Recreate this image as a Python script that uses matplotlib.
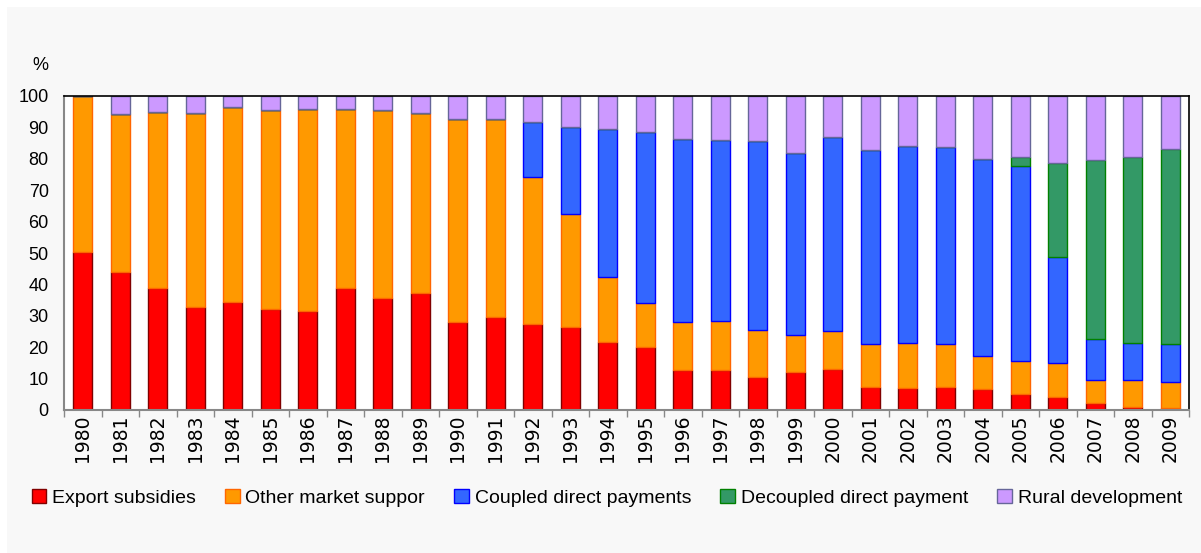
import numpy as np
import matplotlib
matplotlib.use("Agg")
import matplotlib.pyplot as plt
from matplotlib.patches import Rectangle

plt.rcParams['font.family'] = ['Liberation Sans', 'DejaVu Sans']

# data (shares in %)
years = [str(y) for y in range(1980, 2010)]

export_subsidies = [50.3, 44.0, 38.9, 32.9, 34.5, 32.2, 31.6, 38.9, 35.8, 37.4,
                    28.1, 29.5, 27.3, 26.5, 21.7, 20.1, 12.7, 12.7, 10.6, 12.0,
                    13.2, 7.2, 7.1, 7.2, 6.8, 5.1, 4.2, 2.3, 1.1, 0.7]
other_market = [49.7, 50.3, 56.1, 61.6, 61.9, 63.4, 64.4, 57.1, 59.8, 57.1,
                 64.7, 63.3, 47.0, 36.0, 20.8, 14.0, 15.3, 15.6, 15.0, 12.0,
                 12.1, 13.7, 14.1, 13.7, 10.4, 10.5, 10.7, 7.1, 8.5, 8.1]
coupled = [0, 0, 0, 0, 0, 0, 0, 0, 0, 0,
           0, 0, 17.3, 27.6, 47.1, 54.3, 58.4, 57.7, 60.0, 57.8,
           61.6, 62.0, 62.8, 62.7, 62.8, 62.0, 33.7, 13.1, 11.7, 12.1]
decoupled = [0, 0, 0, 0, 0, 0, 0, 0, 0, 0,
             0, 0, 0, 0, 0, 0, 0, 0, 0, 0,
             0, 0, 0, 0, 0, 2.9, 30.2, 57.2, 59.2, 62.3]
rural = [0, 5.7, 5.0, 5.5, 3.6, 4.4, 4.0, 4.0, 4.4, 5.5,
         7.2, 7.2, 8.4, 9.9, 10.4, 11.6, 13.6, 14.0, 14.4, 18.2,
         13.1, 17.1, 16.0, 16.4, 20.0, 19.5, 21.2, 20.3, 19.5, 16.8]

series = [
    ("Export subsidies", export_subsidies, "#ff0000", "#800000"),
    ("Other market suppor", other_market, "#ff9900", "#ff6600"),
    ("Coupled direct payments", coupled, "#3366ff", "#0000ff"),
    ("Decoupled direct payment", decoupled, "#339966", "#008000"),
    ("Rural development", rural, "#cc99ff", "#666699"),
]

W, H = 1201, 553
fig = plt.figure(figsize=(W / 100, H / 100), dpi=100, facecolor="white")
fig.patches.append(Rectangle((7 / W, 0), 1, 1 - 7 / H, transform=fig.transFigure,
                             facecolor="#f8f8f8", edgecolor="none", zorder=-10))

ax = fig.add_axes([64 / W, (H - 410) / H, (1189 - 64) / W, (410 - 96) / H])
ax.set_facecolor("white")

x = np.arange(len(years))
bottom = np.zeros(len(years))
for label, vals, fc, ec in series:
    vals = np.array(vals)
    ax.bar(x, vals, 0.5, bottom=bottom, color=fc, edgecolor=ec, linewidth=1.0,
           label=label)
    bottom += vals

ax.set_xlim(-0.5, len(years) - 0.5)
ax.set_ylim(0, 100)
ax.set_yticks(range(0, 101, 10))
ax.tick_params(axis="y", length=0, labelsize=13, pad=11)
ax.set_xticks(x)
ax.set_xticklabels(years, rotation=90, fontsize=13.5, family="DejaVu Sans")
ax.tick_params(axis="x", length=0, pad=3)
ax.set_xticks(np.arange(-0.5, len(years), 1), minor=True)
ax.tick_params(axis="x", which="minor", length=5, color="#888888", width=1)

for s in ["left", "bottom"]:
    ax.spines[s].set_color("#888888")
    ax.spines[s].set_linewidth(1.5)
for s in ["top", "right"]:
    ax.spines[s].set_color("black")
    ax.spines[s].set_linewidth(1.2)

fig.text(40 / W, (H - 66) / H, "%", fontsize=13, ha="center", va="center")

handles, labels = ax.get_legend_handles_labels()
fig.legend(handles, labels, loc="center left", bbox_to_anchor=(14 / W, (H - 498) / H),
           ncol=5, frameon=False, fontsize=14, handlelength=0.75, handleheight=0.75,
           handletextpad=0.3, columnspacing=1.5)

fig.savefig("out.png", dpi=100, facecolor=fig.get_facecolor())
